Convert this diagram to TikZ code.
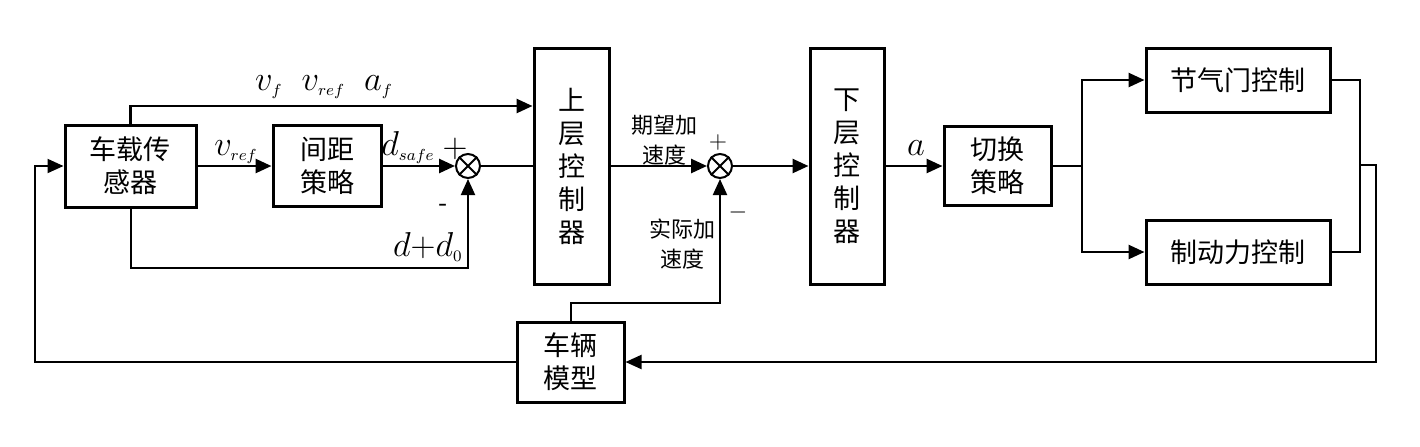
\documentclass[tikz,border=0pt]{standalone}
\usepackage{fontspec}
\setmainfont{Noto Sans CJK SC}
\usetikzlibrary{arrows.meta,positioning}

\newcommand{\sub}[1]{_{\scriptscriptstyle #1}}

\begin{document}
\begin{tikzpicture}[x=0.5pt,y=-0.5pt,
    block/.style={draw,line width=1.5pt,inner sep=0pt,align=center,
      font=\fontsize{13.5}{16.5}\selectfont},
    sumnode/.style={draw,circle,line width=1pt,minimum size=12pt,inner sep=0pt},
    link/.style={line width=1.3pt},
    thinlink/.style={line width=1pt},
    arr/.style={link,-{Triangle[length=8pt,width=7pt]}},
    thinarr/.style={thinlink,-{Triangle[length=8pt,width=7pt]}},
    lab/.style={inner sep=0pt,align=center,font=\fontsize{11}{15}\selectfont},
    sym/.style={inner sep=0pt,font=\fontsize{16}{18}\selectfont}]
  \useasboundingbox (0,0) rectangle (1420,446);

  % blocks
  \node[block,minimum width=65.5pt,minimum height=41pt] (sensor) at (130.5,166) {车载传\\感器};
  \node[block,minimum width=54pt,minimum height=40.5pt] (spacing) at (327,166) {间距\\策略};
  \node[block,minimum width=37.5pt,minimum height=118pt] (upper) at (571.5,166) {上\\层\\控\\制\\器};
  \node[block,minimum width=37pt,minimum height=118pt] (lower) at (847,166) {下\\层\\控\\制\\器};
  \node[block,minimum width=53.5pt,minimum height=39.5pt] (switch) at (997.5,166) {切换\\策略};
  \node[block,minimum width=92pt,minimum height=32pt] (throttle) at (1238,80) {节气门控制};
  \node[block,minimum width=92pt,minimum height=32pt] (brake) at (1238,252) {制动力控制};
  \node[block,minimum width=53.5pt,minimum height=40pt] (vehicle) at (570.5,362) {车辆\\模型};

  % summing points
  \node[sumnode] (sum1) at (468,166) {};
  \node[sumnode] (sum2) at (720,166) {};
  \foreach \s in {sum1,sum2}
    \draw[line width=1pt] (\s.north west) -- (\s.south east)
      (\s.north east) -- (\s.south west);

  % helper points
  \coordinate (dd) at (468,268);
  \coordinate (va) at (720,303);
  \coordinate (br) at (1082,166);
  \coordinate (jr) at (1360,165);
  \coordinate (fbr) at (1376,165);
  \coordinate (fbl) at (35,362);

  % forward path
  \draw[arr] (sensor.east) -- (spacing.west);
  \draw[arr] (spacing.east) -- (sum1.west);
  \draw[link] (sum1.east) -- (upper.west);
  \draw[arr] (upper.east) -- (sum2.west);
  \draw[arr] (sum2.east) -- (lower.west);
  \draw[arr] (lower.east) -- (switch.west);
  \draw[arr] (sensor.north) |- ([yshift=30pt]upper.west);
  \draw[thinarr] (sensor.south) |- (dd) -- (sum1.south);

  % switching branches
  \draw[link] (switch.east) -- (br);
  \draw[arr] (br) |- (throttle.west);
  \draw[arr] (br) |- (brake.west);
  \draw[link] (throttle.east) -| (jr) |- (brake.east);

  % feedback
  \draw[thinarr] (jr) -- (fbr) |- (vehicle.east);
  \draw[thinarr] (vehicle.west) -- (fbl) |- (sensor.west);
  \draw[thinarr] (vehicle.north) |- (va) -- (sum2.south);

  % labels
  \node[sym,anchor=base] (lvfa) at (324,90) {$v\sub{f}\;\; v\sub{ref}\;\; a\sub{f}$};
  \node[sym,anchor=base] (lvref) at (236,155) {$v\sub{ref}$};
  \node[sym,anchor=base] (ldsafe) at (408,155) {$d\sub{safe}$};
  \node[sym,anchor=base] (lplus1) at (455,157) {$\mathbf{+}$};
  \node[sym,anchor=base,font=\fontsize{13}{15}\selectfont] (lminus1) at (443,212) {-};
  \node[sym,anchor=base east,font=\fontsize{17}{19}\selectfont] (ldd) at (463,256) {$d\mathbf{+}d\sub{0}$};
  \node[lab] (ldes) at (664,140) {期望加\\速度};
  \node[sym,anchor=base,font=\fontsize{13}{15}\selectfont] (lplus2) at (718,148) {$+$};
  \node[sym,anchor=base,font=\fontsize{13}{15}\selectfont] (lminus2) at (738,218) {$-$};
  \node[lab] (lact) at (682,244) {实际加\\速度};
  \node[sym,anchor=base,font=\fontsize{17}{19}\selectfont] (la) at (916,155) {$a$};
\end{tikzpicture}
\end{document}
